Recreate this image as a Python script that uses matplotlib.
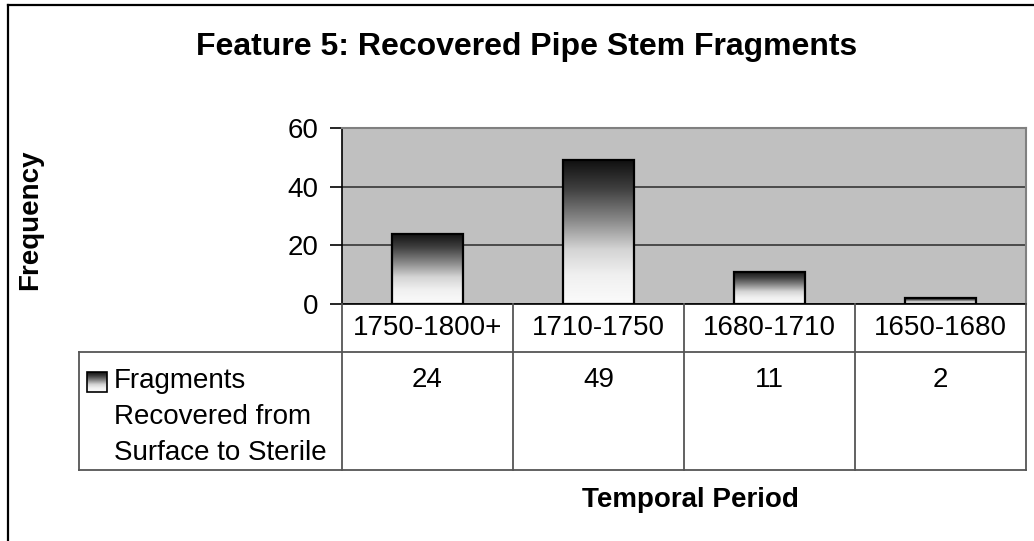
import matplotlib
matplotlib.use("Agg")
import matplotlib.pyplot as plt
import numpy as np
from matplotlib.colors import LinearSegmentedColormap
from matplotlib.lines import Line2D
from matplotlib.patches import Rectangle

plt.rcParams["font.family"] = ["Liberation Sans", "DejaVu Sans"]

periods = ["1750-1800+", "1710-1750", "1680-1710", "1650-1680"]
fragments = [24, 49, 11, 2]
series_label = ["Fragments", "Recovered from", "Surface to Sterile"]
y_ticks = [0, 20, 40, 60]

W, H = 1034, 541
fig = plt.figure(figsize=(W / 100, H / 100), dpi=100)

# plot area in pixel coordinates
px_left, px_right, px_top, px_bottom = 342, 1026, 128, 304
ax = fig.add_axes([px_left / W, 1 - px_bottom / H,
                   (px_right - px_left) / W, (px_bottom - px_top) / H])
ax.set_facecolor("#C0C0C0")

# black at the top fading to white at the bottom
grad_cmap = LinearSegmentedColormap.from_list(
    "excel_grad",
    [(0.0, "#101010"), (0.2, "#404040"), (0.42, "#8a8a8a"),
     (0.62, "#d4d4d4"), (0.8, "#f0f0f0"), (1.0, "#fbfbfb")])
grad = np.linspace(0, 1, 256).reshape(-1, 1)

x = np.arange(len(periods))
bars = ax.bar(x, fragments, width=0.413, facecolor="none",
              edgecolor="black", linewidth=1.6, zorder=4)
for patch in bars:
    bx, bw, bh = patch.get_x(), patch.get_width(), patch.get_height()
    im = ax.imshow(grad, extent=[bx, bx + bw, 0, bh], aspect="auto",
                   cmap=grad_cmap, origin="upper", zorder=3)
    im.set_clip_path(patch)

ax.set_xlim(-0.5, len(periods) - 0.5)
ax.set_ylim(0, 60)
ax.set_yticks(y_ticks)
ax.set_xticks([])
ax.yaxis.grid(True, color="#2a2a2a", linewidth=1.1)
ax.set_axisbelow(True)
ax.tick_params(axis="y", length=9, width=1.2, color="black",
               labelsize=20, pad=8)
for s in ["top", "right"]:
    ax.spines[s].set_color("#808080")
    ax.spines[s].set_linewidth(1.5)
for s in ["left", "bottom"]:
    ax.spines[s].set_color("black")
    ax.spines[s].set_linewidth(1.2)

# overlay in pixel coordinates for the frame, table and titles
ov = fig.add_axes([0, 0, 1, 1], zorder=5)
ov.set_xlim(0, W)
ov.set_ylim(H, 0)
ov.axis("off")

frame_kw = dict(color="black", linewidth=1.6)
ov.add_line(Line2D([8, 8], [5, H], **frame_kw))
ov.add_line(Line2D([8, W], [5, 5], **frame_kw))

tbl_kw = dict(color="#555555", linewidth=1.3)
row_mid, row_bot, leg_left = 352, 470, 79
cell_w = (px_right - px_left) / len(periods)
for i in range(len(periods) + 1):
    xx = px_left + i * cell_w
    ov.add_line(Line2D([xx, xx], [px_bottom, row_bot], **tbl_kw))
ov.add_line(Line2D([leg_left, px_right], [row_mid, row_mid], **tbl_kw))
ov.add_line(Line2D([leg_left, px_right], [row_bot, row_bot], **tbl_kw))
ov.add_line(Line2D([leg_left, leg_left], [row_mid, row_bot], **tbl_kw))

for i, (p, v) in enumerate(zip(periods, fragments)):
    cx = px_left + (i + 0.5) * cell_w
    ov.text(cx, 328, p, ha="center", va="center", fontsize=20)
    ov.text(cx, 380, str(v), ha="center", va="center", fontsize=20)

# legend key with the same gradient
ov.imshow(grad, extent=[87, 107, 392, 372], aspect="auto",
          cmap=grad_cmap, origin="upper", zorder=2)
ov.add_patch(Rectangle((87, 372), 20, 20, facecolor="none",
                       edgecolor="black", linewidth=1.2, zorder=3))
ov.set_xlim(0, W)
ov.set_ylim(H, 0)
for j, line in enumerate(series_label):
    ov.text(114, 381 + j * 36, line, ha="left", va="center", fontsize=20)

ov.text(527, 47, "Feature 5: Recovered Pipe Stem Fragments", ha="center",
        va="center", fontsize=23, fontweight="bold")
ov.text(30, 220, "Frequency", ha="center", va="center", rotation=90,
        fontsize=20, fontweight="bold")
ov.text(690, 500, "Temporal Period", ha="center", va="center",
        fontsize=20, fontweight="bold")

fig.savefig("out.png", dpi=100)
